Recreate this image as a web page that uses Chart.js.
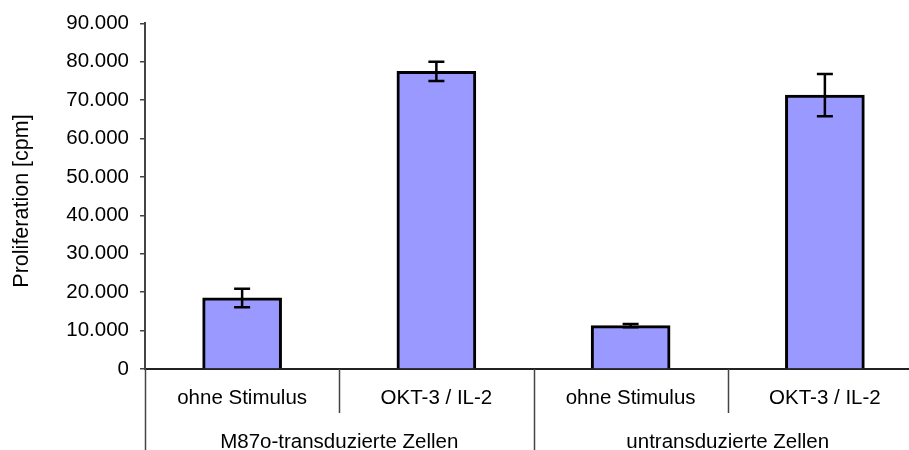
<!DOCTYPE html>
<html>
<head>
<meta charset="utf-8">
<script src="https://cdn.jsdelivr.net/npm/chart.js@4"></script>
<style>
  html, body { margin: 0; padding: 0; overflow: hidden; background: #fff; }
  #wrap { width: 922px; height: 450px; position: relative; }
</style>
</head>
<body>
<div id="wrap"><canvas id="c" width="922" height="450"></canvas></div>
<script>
// Proliferation assay: mean cpm with standard deviation
const categories = ['ohne Stimulus', 'OKT-3 / IL-2', 'ohne Stimulus', 'OKT-3 / IL-2'];
const groups = ['M87o-transduzierte Zellen', 'untransduzierte Zellen'];
const groupSize = 2;
const values = [18500, 77500, 11300, 71300];
const errors = [2400, 2500, 400, 5500];
const yTitle = 'Proliferation [cpm]';
const yMax = 90000;
const yStep = 10000;

const FONT = '"Liberation Sans", Arial, sans-serif';
const FONT_SIZE = 20.5;
const TITLE_SIZE = 21.5;

function formatThousands(v) {
  return String(Math.round(v)).replace(/\B(?=(\d{3})+(?!\d))/g, '.');
}

// Error bars with caps
const errorBarPlugin = {
  id: 'errorBars',
  afterDatasetsDraw(chart) {
    const ctx = chart.ctx;
    const meta = chart.getDatasetMeta(0);
    const y = chart.scales.y;
    ctx.save();
    ctx.strokeStyle = '#000';
    ctx.lineWidth = 2.5;
    meta.data.forEach((bar, i) => {
      const x = bar.x;
      const top = y.getPixelForValue(values[i] + errors[i]);
      const bot = y.getPixelForValue(values[i] - errors[i]);
      const cap = 8;
      ctx.beginPath();
      ctx.moveTo(x, top); ctx.lineTo(x, bot);
      ctx.moveTo(x - cap, top); ctx.lineTo(x + cap, top);
      ctx.moveTo(x - cap, bot); ctx.lineTo(x + cap, bot);
      ctx.stroke();
    });
    ctx.restore();
  }
};

// Two-level category axis and rotated y title
const groupAxisPlugin = {
  id: 'groupAxis',
  afterDraw(chart) {
    const ctx = chart.ctx;
    const x = chart.scales.x;
    const area = chart.chartArea;
    const n = categories.length;
    const half = (x.getPixelForValue(1) - x.getPixelForValue(0)) / 2;
    const bottom = area.bottom;
    ctx.save();
    ctx.strokeStyle = '#444';
    ctx.lineWidth = 1.5;
    // separators
    for (let i = 0; i <= n; i++) {
      const px = Math.round((i < n ? x.getPixelForValue(i) - half : x.getPixelForValue(n - 1) + half)) + 0.5;
      const tall = (i % groupSize === 0);
      ctx.beginPath();
      ctx.moveTo(px, bottom);
      ctx.lineTo(px, tall ? chart.height : bottom + 44);
      ctx.stroke();
    }
    ctx.fillStyle = '#000';
    ctx.font = FONT_SIZE + 'px ' + FONT;
    ctx.textAlign = 'center';
    ctx.textBaseline = 'middle';
    categories.forEach((c, i) => {
      ctx.fillText(c, x.getPixelForValue(i), bottom + 29);
    });
    groups.forEach((g, gi) => {
      const a = x.getPixelForValue(gi * groupSize);
      const b = x.getPixelForValue(gi * groupSize + groupSize - 1);
      ctx.fillText(g, (a + b) / 2, bottom + 73);
    });
    // y title
    ctx.font = TITLE_SIZE + 'px ' + FONT;
    ctx.translate(22, 201);
    ctx.rotate(-Math.PI / 2);
    ctx.fillText(yTitle, 0, 0);
    ctx.restore();
  }
};

new Chart(document.getElementById('c'), {
  type: 'bar',
  data: {
    labels: categories,
    datasets: [{
      data: values,
      backgroundColor: '#9999FF',
      borderColor: '#000',
      borderWidth: 3,
      barThickness: 79
    }]
  },
  options: {
    responsive: false,
    animation: false,
    layout: { padding: { top: 21, right: 0, bottom: 0, left: 0 } },
    plugins: { legend: { display: false }, tooltip: { enabled: false } },
    scales: {
      x: {
        ticks: { display: false },
        grid: { display: false, drawTicks: false },
        border: { display: true, color: '#222', width: 2 },
        afterFit(s) { s.height = 81; }
      },
      y: {
        min: 0,
        max: yMax,
        ticks: {
          stepSize: yStep,
          padding: 11,
          color: '#000',
          font: { family: FONT, size: FONT_SIZE },
          callback: v => formatThousands(v)
        },
        grid: { drawOnChartArea: false, drawTicks: true, tickLength: 5, color: '#444', lineWidth: 1.5 },
        border: { display: true, color: '#444', width: 2 },
        afterFit(s) { s.width = 145; }
      }
    }
  },
  plugins: [errorBarPlugin, groupAxisPlugin]
});
</script>
</body>
</html>
